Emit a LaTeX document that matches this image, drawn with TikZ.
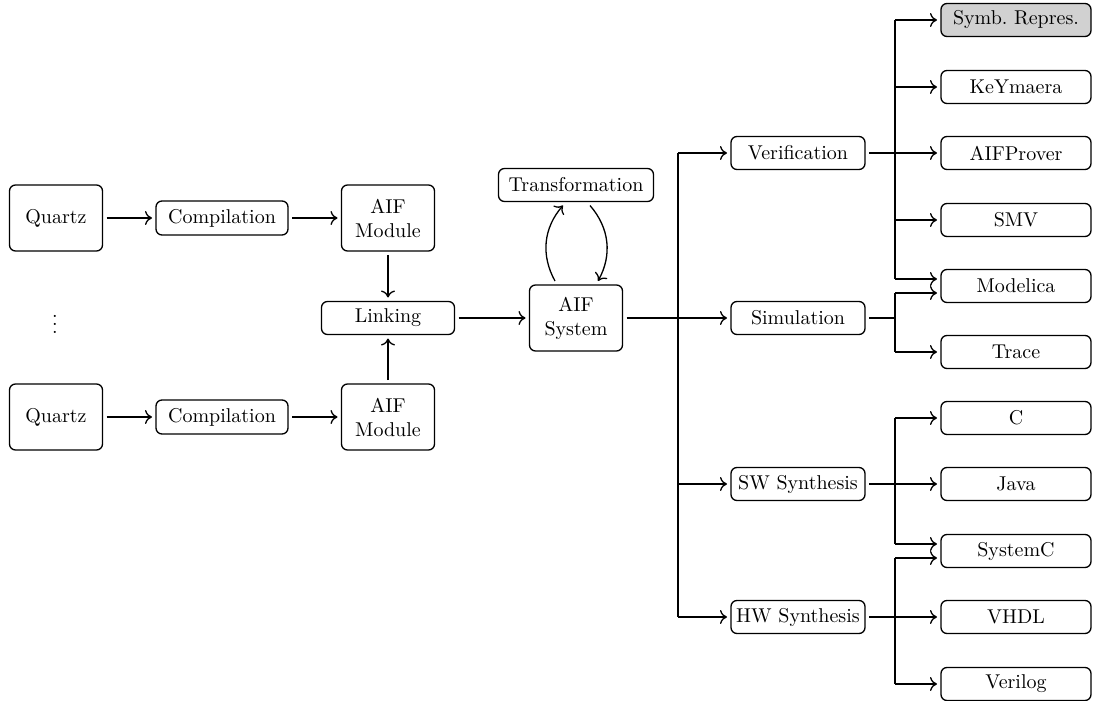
\documentclass[tikz,border=0pt]{standalone}
\usetikzlibrary{calc,arrows.meta}
\begin{document}
\begin{tikzpicture}[x=0.5pt,y=-0.5pt,
  >={Computer Modern Rightarrow[length=3.5pt,width=7pt]},
  box/.style={draw,line width=0.65pt,rounded corners=3pt,align=center,outer sep=2pt,inner sep=1pt},
  bigbox/.style={box,minimum width=46.5pt,minimum height=33pt},
  midbox/.style={box,minimum width=67pt,minimum height=16.5pt},
  outbox/.style={box,minimum width=75pt,minimum height=16.5pt},
  arr/.style={->,line width=0.65pt},
  ln/.style={line width=0.65pt}]
\useasboundingbox (0,0) rectangle (1099,701);

% sources
\node[bigbox] (q1) at (56,218) {Quartz};
\node[box,minimum width=66pt,minimum height=17pt] (c1) at (222,218) {Compilation};
\node[bigbox] (m1) at (388,218) {AIF\\Module};
\node (dots) at (55,318) {$\vdots$};
\node[bigbox] (q2) at (56,417) {Quartz};
\node[box,minimum width=66pt,minimum height=17pt] (c2) at (222,417) {Compilation};
\node[bigbox] (m2) at (388,417) {AIF\\Module};
\node[box,minimum width=66.5pt,minimum height=16.5pt] (lk) at (388,318) {Linking};

% system and transformation loop
\node[bigbox] (sys) at (576,318) {AIF\\System};
\node[box,minimum width=77.5pt,minimum height=16.5pt] (tr) at (576,185) {Transformation};

% tools
\node[midbox] (ver) at (798,153) {Verification};
\node[midbox] (sim) at (798,318) {Simulation};
\node[midbox] (sw) at (798,484) {SW Synthesis};
\node[midbox] (hw) at (798,617) {HW Synthesis};

% targets
\node[outbox,fill=black!18] (sym) at (1016,20) {Symb.\ Repres.};
\node[outbox] (key) at (1016,87) {KeYmaera};
\node[outbox] (aifp) at (1016,153) {AIFProver};
\node[outbox] (smv) at (1016,220) {SMV};
\node[outbox] (mod) at (1016,286) {Modelica};
\node[outbox] (trc) at (1016,352) {Trace};
\node[outbox] (cc) at (1016,418) {C};
\node[outbox] (java) at (1016,484) {Java};
\node[outbox] (sysc) at (1016,551) {SystemC};
\node[outbox] (vhdl) at (1016,617) {VHDL};
\node[outbox] (vlog) at (1016,684) {Verilog};

\coordinate (tk) at (678,318);
\coordinate (rb) at (895,318);

% compilation chains
\draw[arr] (q1) -- (c1);
\draw[arr] (c1) -- (m1);
\draw[arr] (q2) -- (c2);
\draw[arr] (c2) -- (m2);
\draw[arr] (m1) -- (lk);
\draw[arr] (m2) -- (lk);
\draw[arr] (lk) -- (sys);

\draw[arr] ([xshift=-10.5pt]sys.north) to[bend left=35] ([xshift=-6.5pt]tr.south);
\draw[arr] ([xshift=7pt]tr.south) to[bend left=35] ([xshift=11pt]sys.north);

% trunk to the tool nodes
\draw[ln] (sys.east) -- (tk);
\draw[ln] (ver.west -| tk) -- (hw.west -| tk);
\draw[arr] (ver.west -| tk) -- (ver);
\draw[arr] (tk) -- (sim);
\draw[arr] (sw.west -| tk) -- (sw);
\draw[arr] (hw.west -| tk) -- (hw);

% verification back ends
\draw[ln] (ver.east) -- (ver.east -| rb);
\draw[ln] (sym.west -| rb) -- ([yshift=3.5pt]mod.west -| rb);
\draw[arr] (sym.west -| rb) -- (sym);
\draw[arr] (key.west -| rb) -- (key);
\draw[arr] (aifp.west -| rb) -- (aifp);
\draw[arr] (smv.west -| rb) -- (smv);
\draw[arr] ([yshift=3.5pt]mod.west -| rb) -- ([yshift=3.5pt]mod.west);

% simulation back ends
\draw[ln] (sim.east) -- (sim.east -| rb);
\draw[ln] ([yshift=-3.5pt]mod.west -| rb) -- (trc.west -| rb);
\draw[arr] ([yshift=-3.5pt]mod.west -| rb) -- ([yshift=-3.5pt]mod.west);
\draw[arr] (trc.west -| rb) -- (trc);

% software synthesis
\draw[ln] (sw.east) -- (sw.east -| rb);
\draw[ln] (cc.west -| rb) -- ([yshift=3.5pt]sysc.west -| rb);
\draw[arr] (cc.west -| rb) -- (cc);
\draw[arr] (java.west -| rb) -- (java);
\draw[arr] ([yshift=3.5pt]sysc.west -| rb) -- ([yshift=3.5pt]sysc.west);

% hardware synthesis
\draw[ln] (hw.east) -- (hw.east -| rb);
\draw[ln] ([yshift=-3.5pt]sysc.west -| rb) -- (vlog.west -| rb);
\draw[arr] ([yshift=-3.5pt]sysc.west -| rb) -- ([yshift=-3.5pt]sysc.west);
\draw[arr] (vhdl.west -| rb) -- (vhdl);
\draw[arr] (vlog.west -| rb) -- (vlog);
\end{tikzpicture}
\end{document}
